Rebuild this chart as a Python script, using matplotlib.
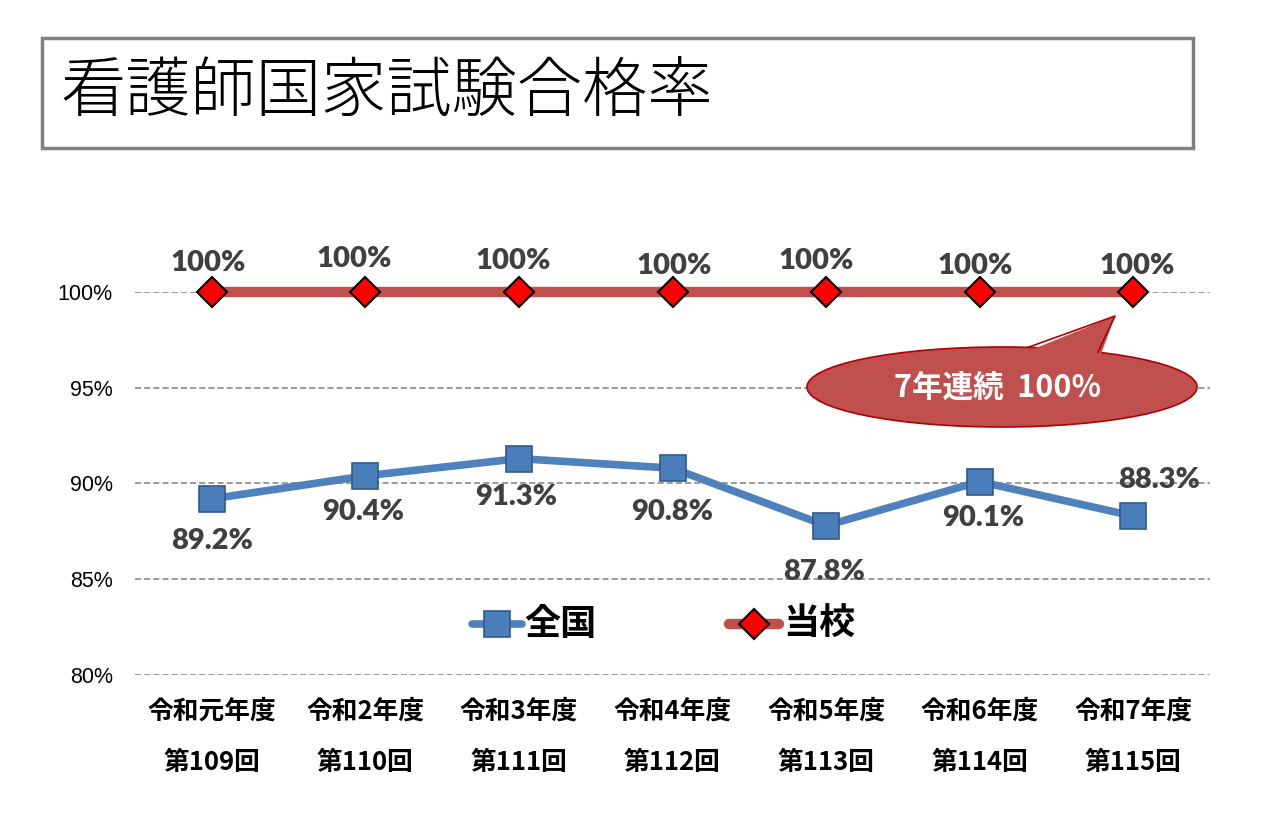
import matplotlib
matplotlib.use("Agg")
import matplotlib.pyplot as plt
from matplotlib.patches import Rectangle, Ellipse, Polygon
from matplotlib.lines import Line2D

plt.rcParams['font.family'] = ['Noto Sans CJK JP', 'DejaVu Sans']

categories_line1 = ["令和元年度", "令和2年度", "令和3年度", "令和4年度", "令和5年度", "令和6年度", "令和7年度"]
categories_line2 = ["第109回", "第110回", "第111回", "第112回", "第113回", "第114回", "第115回"]
national = [89.2, 90.4, 91.3, 90.8, 87.8, 90.1, 88.3]
school = [100, 100, 100, 100, 100, 100, 100]
yticks = [80, 85, 90, 95, 100]
ytick_labels = ["80%", "85%", "90%", "95%", "100%"]
title = "看護師国家試験合格率"
callout_text = "7年連続  100%"

# label offsets in pixels (dx, dy)
nat_off = [(0, -42), (-2, -36), (-3, -38), (0, -44), (-2, -46), (4, -36), (26, 36)]
sch_off = [(-4, 29), (-11, 33), (-6, 31), (2, 26), (-10, 31), (-4, 26), (4, 26)]

W, H = 1267, 825
fig = plt.figure(figsize=(W / 100, H / 100), dpi=100)
fig.patch.set_facecolor("white")

def fx(px):
    return px / W

def fy(py):
    return 1 - py / H

# Title box
fig.patches.append(Rectangle((fx(42), fy(148)), fx(1193) - fx(42), fy(38) - fy(148),
                             transform=fig.transFigure, fill=False, edgecolor="#808080", linewidth=2.5))
fig.text(fx(60), fy(94), title, fontsize=47, va="center", ha="left", color="black",
         family=['Noto Sans CJK JP'], fontweight='light')

ax = fig.add_axes([fx(135), fy(675), fx(1210) - fx(135), fy(292) - fy(675)])
x = list(range(len(national)))
ax.set_xlim(-0.5, len(national) - 0.5)
ax.set_ylim(80, 100)
for s in ax.spines.values():
    s.set_visible(False)
ax.set_yticks(yticks)
ax.set_yticklabels(ytick_labels, fontsize=15.5, family=['Liberation Sans', 'DejaVu Sans'])
ax.tick_params(axis='y', length=0, pad=16)
ax.set_xticks(x)
ax.set_xticklabels([])
ax.tick_params(axis='x', length=0)
for yv in yticks:
    ax.axhline(yv, color="#808080", linestyle=(0, (4, 2)), linewidth=1.1, zorder=1)

ax.plot(x, school, color="#C0504D", linewidth=7.5, zorder=3, clip_on=False,
        marker="D", markersize=15, markerfacecolor="#FF0000", markeredgecolor="black",
        markeredgewidth=1.5, solid_capstyle='butt')
ax.plot(x, national, color="#4F81BD", linewidth=5.5, zorder=3, clip_on=False,
        marker="s", markersize=19, markerfacecolor="#4A7EBB", markeredgecolor="#2F5A8E",
        markeredgewidth=1.2)

lab_font = dict(fontsize=21, fontweight='heavy', color="#404040",
                family=['Lato', 'DejaVu Sans'], ha='center', va='center', zorder=5)
for i, v in enumerate(national):
    dx, dy = nat_off[i]
    ax.annotate(f"{v:.1f}%", (x[i], v), xytext=(dx * 0.72, dy * 0.72),
                textcoords='offset points', annotation_clip=False, **lab_font)
for i, v in enumerate(school):
    dx, dy = sch_off[i]
    ax.annotate(f"{v:.0f}%", (x[i], v), xytext=(dx * 0.72, dy * 0.72),
                textcoords='offset points', annotation_clip=False, **lab_font)

# x tick labels in two lines
for i in x:
    ax.annotate(categories_line1[i], (x[i], 80), xytext=(0, -36 * 0.72), textcoords='offset points',
                ha='center', va='center', fontsize=18.5, fontweight='bold', annotation_clip=False)
    ax.annotate(categories_line2[i], (x[i], 80), xytext=(0, -88 * 0.72), textcoords='offset points',
                ha='center', va='center', fontsize=18.5, fontweight='bold', annotation_clip=False)

# Callout
ell = Ellipse((fx(1002), fy(387)), fx(390), (fy(347) - fy(427)), transform=fig.transFigure,
              facecolor="#C0504D", edgecolor="#B00000", linewidth=1.2, zorder=10)
fig.patches.append(ell)
tri = Polygon([(fx(1026), fy(352)), (fx(1115), fy(316)), (fx(1100), fy(357))], closed=True,
              transform=fig.transFigure, facecolor="#C0504D", edgecolor="none", zorder=11)
fig.patches.append(tri)
fig.add_artist(Line2D([fx(1028), fx(1115), fx(1098)], [fy(347.4), fy(316), fy(352.2)],
                      transform=fig.transFigure, color="#B00000", linewidth=1.2, zorder=12))
fig.text(fx(998), fy(388), callout_text, fontsize=22, fontweight='bold', color="white",
         ha='center', va='center', zorder=13)

# Legend
fig.add_artist(Line2D([fx(472), fx(522)], [fy(624), fy(624)], transform=fig.transFigure,
                      color="#4F81BD", linewidth=5.5, solid_capstyle='round'))
fig.add_artist(Line2D([fx(497)], [fy(624)], transform=fig.transFigure, marker='s', markersize=19,
                      markerfacecolor="#4A7EBB", markeredgecolor="#2F5A8E", markeredgewidth=1.2))
fig.text(fx(524), fy(624), "全国", fontsize=26, fontweight='bold', va='center', ha='left')
fig.add_artist(Line2D([fx(729), fx(779)], [fy(624), fy(624)], transform=fig.transFigure,
                      color="#C0504D", linewidth=7.5, solid_capstyle='round'))
fig.add_artist(Line2D([fx(754)], [fy(624)], transform=fig.transFigure, marker='D', markersize=15,
                      markerfacecolor="#FF0000", markeredgecolor="black", markeredgewidth=1.5))
fig.text(fx(783), fy(624), "当校", fontsize=26, fontweight='bold', va='center', ha='left')

fig.savefig("out.png", dpi=100)
